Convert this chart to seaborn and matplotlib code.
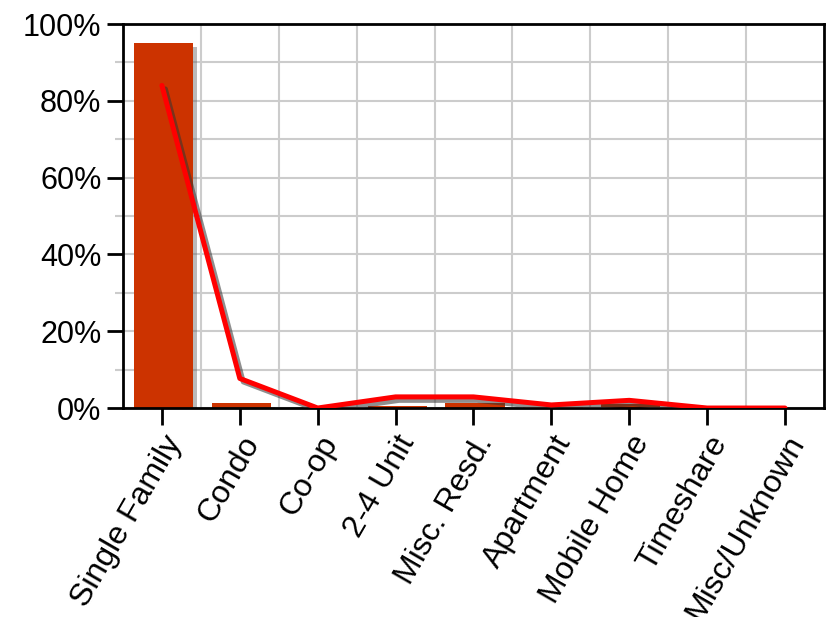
import numpy as np
import pandas as pd
import matplotlib
matplotlib.use("Agg")
import matplotlib.pyplot as plt
import matplotlib.patheffects as pe
from matplotlib.ticker import FixedLocator, PercentFormatter, MultipleLocator
import seaborn as sns

categories = ["Single Family", "Condo", "Co-op", "2-4 Unit", "Misc. Resd.",
              "Apartment", "Mobile Home", "Timeshare", "Misc/Unknown"]
bar_values = [95.0, 1.4, 0.0, 0.6, 1.4, 0.2, 1.0, 0.0, 0.0]
line_values = [84.0, 7.7, 0.0, 2.9, 2.9, 0.8, 2.0, 0.0, 0.0]

df = pd.DataFrame({"category": categories, "bar": bar_values, "line": line_values})

sns.set_theme(style="white")
plt.rcParams["font.family"] = ["Liberation Sans", "DejaVu Sans"]

fig = plt.figure(figsize=(8.4, 6.17), dpi=100)
ax = fig.add_axes([0.1464, 0.3387, 0.8345, 0.6224])

sns.barplot(data=df, x="category", y="bar", order=categories, color="#CC3300",
            saturation=1, width=0.76, ax=ax, zorder=2)
for p in ax.patches:
    p.set_path_effects([pe.SimplePatchShadow(offset=(3, -3), shadow_rgbFace="#666666", alpha=0.45),
                        pe.Normal()])
    p.set_edgecolor("none")
    p.set_x(p.get_x() + 0.02)

sns.lineplot(data=df, x="category", y="line", color="#FF0000", linewidth=3.6,
             ax=ax, zorder=3, sort=False,
             path_effects=[pe.SimpleLineShadow(offset=(2.5, -2.5), shadow_color="#333333", alpha=0.55),
                           pe.Normal()])

ax.set_xlim(-0.5, len(categories) - 0.5)
ax.set_ylim(0, 100)
ax.set_xlabel("")
ax.set_ylabel("")

ax.yaxis.set_major_locator(MultipleLocator(20))
ax.yaxis.set_minor_locator(MultipleLocator(10))
ax.yaxis.set_major_formatter(PercentFormatter(decimals=0))
ax.xaxis.set_minor_locator(FixedLocator(np.arange(len(categories) - 1) + 0.5))

ax.set_axisbelow(True)
ax.grid(True, which="minor", axis="both", color="#cccccc", linewidth=1.5)
ax.grid(True, which="major", axis="y", color="#cccccc", linewidth=1.5)
ax.grid(False, which="major", axis="x")

ax.tick_params(axis="y", which="major", length=11.5, width=2, color="black",
               labelsize=22, pad=4, left=True, labelcolor="black")
ax.tick_params(axis="y", which="minor", length=6, width=1.5, color="#cccccc", left=True)
ax.tick_params(axis="x", which="major", length=12, width=2, color="black",
               labelsize=23, pad=4, bottom=True, labelcolor="black")
ax.tick_params(axis="x", which="minor", length=0)

for lab in ax.get_xticklabels():
    lab.set_rotation(60)
    lab.set_ha("right")
    lab.set_rotation_mode("anchor")

for s in ax.spines.values():
    s.set_visible(True)
    s.set_color("black")
    s.set_linewidth(2)

fig.savefig("out.png", dpi=100, facecolor="white")
